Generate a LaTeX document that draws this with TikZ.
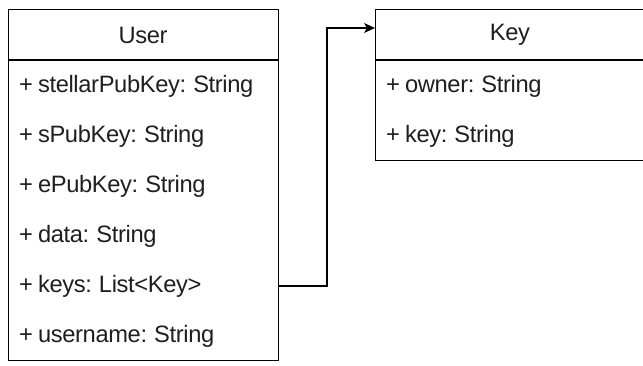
\documentclass[tikz,border=0pt]{standalone}
\usepackage{fontspec}
\setmainfont{Liberation Sans}[LetterSpace=-1.5,WordSpace=0.8]
\usetikzlibrary{arrows.meta}
\begin{document}
\begin{tikzpicture}[x=1pt,y=-1pt,
  classbox/.style={draw=black,line width=1.3pt,fill=white,inner sep=0pt,anchor=north west},
  sep/.style={line width=1.3pt},
  field/.style={anchor=west,inner sep=0pt,font=\fontsize{23.7}{28}\selectfont,text=black!88},
  title/.style={inner sep=0pt,font=\fontsize{23.7}{28}\selectfont,text=black!88},
  link/.style={line width=1.3pt,-{Stealth[length=11pt,width=10pt,inset=3pt]}}]
\useasboundingbox (0,0) rectangle (643,365);

% class User
\node[classbox,minimum width=270pt,minimum height=351pt] (user) at (8,9) {};
\draw[sep] (8,60) -- (278,60);
\node[title] (usertitle) at (143,35) {User};
\node[field] (f1) at (19,86) {+ stellarPubKey: String};
\node[field] (f2) at (19,136) {+ sPubKey: String};
\node[field] (f3) at (19,186) {+ ePubKey: String};
\node[field] (f4) at (19,236) {+ data: String};
\node[field] (f5) at (19,286) {+ keys: List<Key>};
\node[field] (f6) at (19,336) {+ username: String};

% class Key
\node[classbox,minimum width=270pt,minimum height=151pt] (key) at (375,9) {};
\draw[sep] (375,60) -- (650,60);
\node[title] (keytitle) at (510,35) {Key};
\node[field] (k1) at (386,86) {+ owner: String};
\node[field] (k2) at (386,136) {+ key: String};

% association User.keys -> Key
\coordinate (bend) at (327,28);
\draw[link] (user.east |- f5) -| (bend) -- (bend -| key.west);
\end{tikzpicture}
\end{document}
